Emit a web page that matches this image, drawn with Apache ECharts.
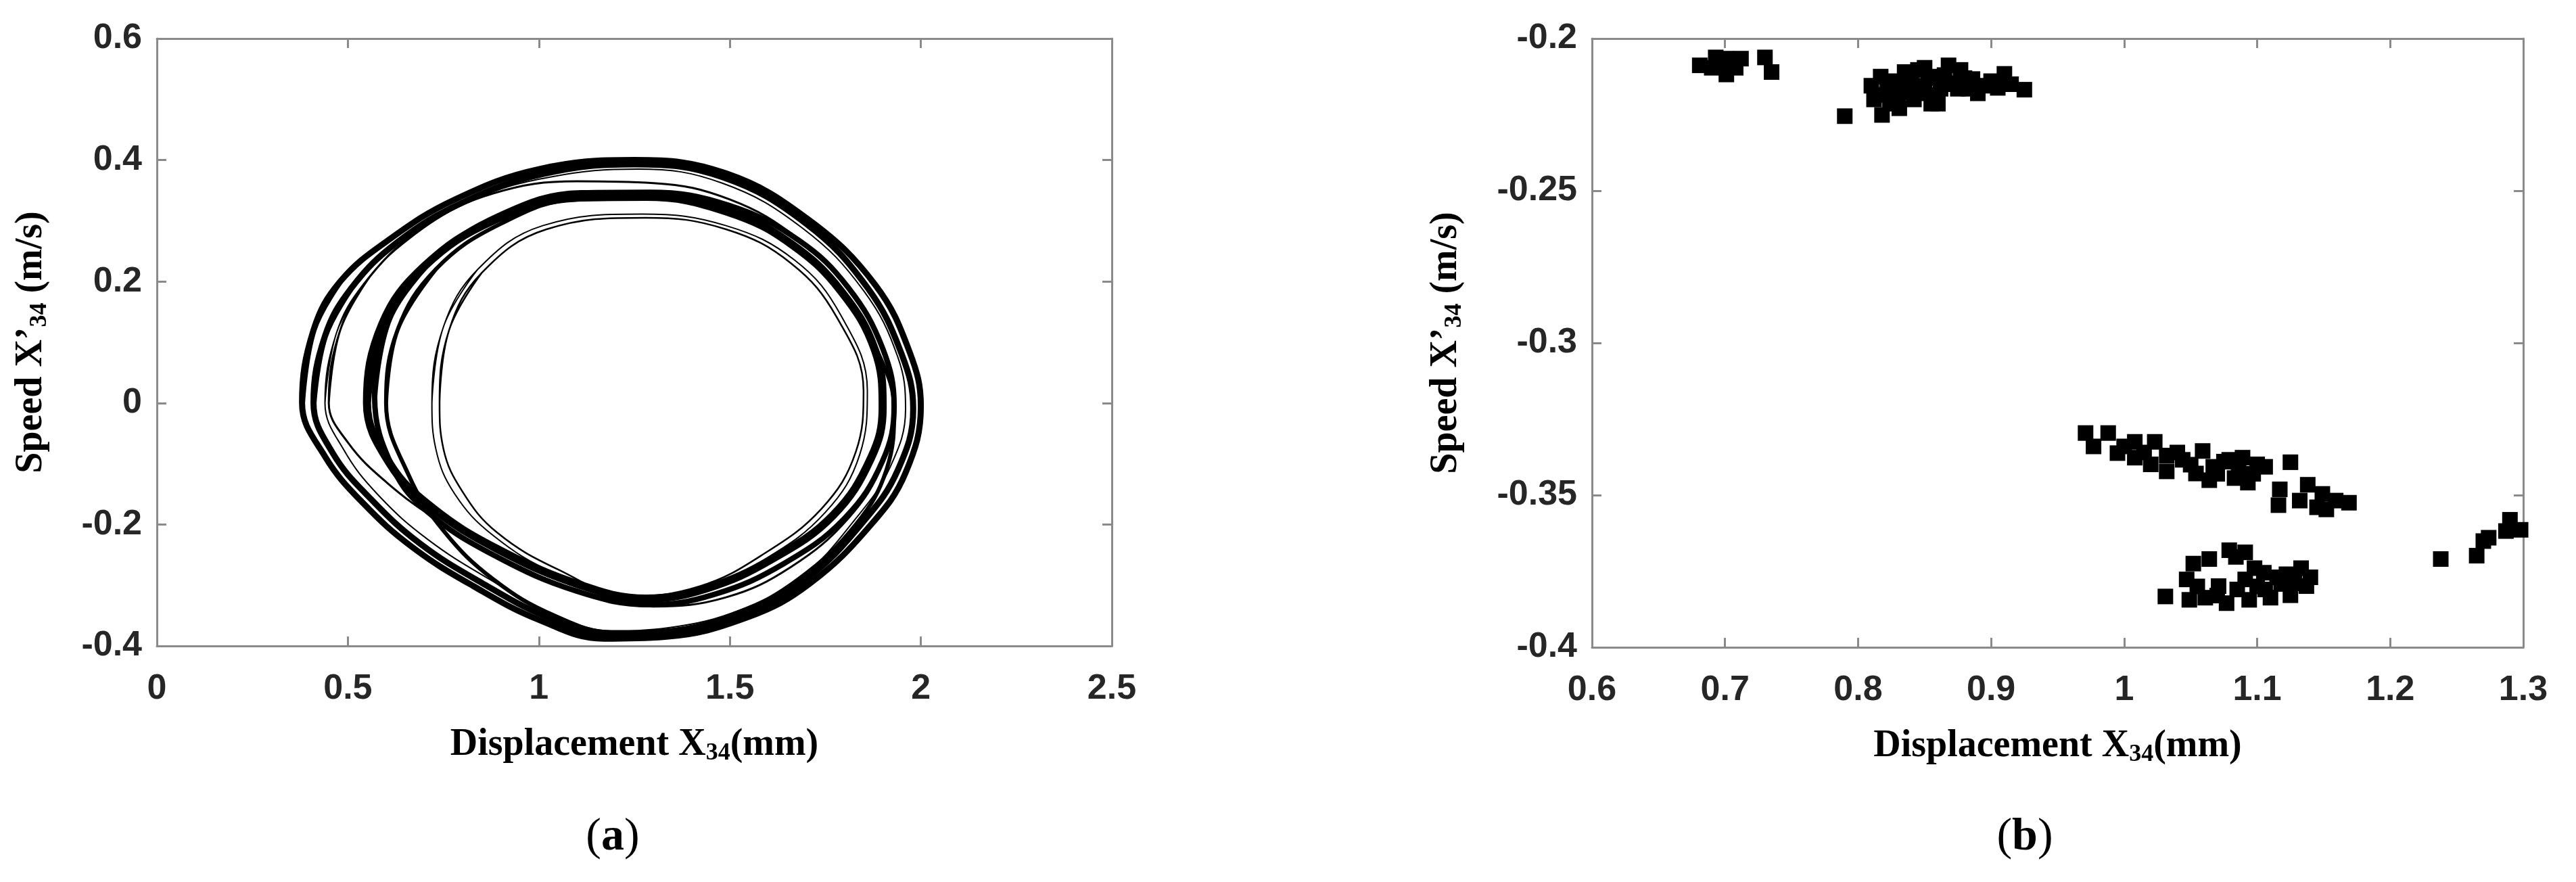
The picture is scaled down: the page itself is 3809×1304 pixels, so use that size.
<!DOCTYPE html>
<html>
<head>
<meta charset="utf-8">
<script src="https://cdn.jsdelivr.net/npm/echarts@6/dist/echarts.min.js"></script>
<style>
  html, body { margin: 0; padding: 0; background: #fff; }
  #main { width: 3809px; height: 1304px; }
</style>
</head>
<body>
<div id="main"></div>
<script>
// (a) phase portrait: loops, [displacement mm, speed m/s]
var loopOuter1 = [[0.38,0.00],[0.41,0.12],[0.48,0.20],[0.61,0.27],[0.78,0.335],[1.00,0.385],[1.25,0.400],[1.49,0.378],[1.71,0.300],[1.88,0.195],[1.97,0.085],[2.00,-0.005],[1.96,-0.115],[1.87,-0.200],[1.71,-0.297],[1.55,-0.352],[1.33,-0.385],[1.17,-0.388],[1.00,-0.357],[0.83,-0.302],[0.67,-0.238],[0.54,-0.165],[0.44,-0.088],[0.38,0.00]];
var loopOuter2 = [[0.41,0.00],[0.44,0.11],[0.51,0.19],[0.63,0.265],[0.80,0.33],[1.01,0.377],[1.25,0.393],[1.48,0.372],[1.70,0.295],[1.86,0.19],[1.95,0.08],[1.98,-0.01],[1.94,-0.11],[1.85,-0.195],[1.70,-0.29],[1.54,-0.345],[1.33,-0.378],[1.18,-0.383],[1.02,-0.352],[0.85,-0.296],[0.69,-0.232],[0.56,-0.158],[0.46,-0.082],[0.41,0.00]];
var loopOuter3 = [[0.44,0.00],[0.47,0.115],[0.54,0.195],[0.66,0.27],[0.83,0.335],[1.03,0.372],[1.26,0.385],[1.48,0.362],[1.69,0.288],[1.85,0.185],[1.94,0.075],[1.96,-0.01],[1.92,-0.105],[1.83,-0.19],[1.69,-0.285],[1.53,-0.34],[1.34,-0.37],[1.19,-0.375],[1.03,-0.345],[0.87,-0.29],[0.71,-0.225],[0.58,-0.152],[0.49,-0.078],[0.44,0.00]];
var loopMiddle = [[0.45,0.00],[0.48,0.12],[0.56,0.21],[0.70,0.29],[0.88,0.345],[1.10,0.365],[1.30,0.362],[1.50,0.335],[1.68,0.27],[1.82,0.18],[1.91,0.08],[1.93,-0.01],[1.90,-0.10],[1.81,-0.19],[1.66,-0.27],[1.49,-0.32],[1.30,-0.335],[1.12,-0.312],[0.92,-0.26],[0.74,-0.195],[0.60,-0.13],[0.50,-0.065],[0.45,0.00]];
var loopInner1 = [[0.55,0.00],[0.59,0.13],[0.70,0.225],[0.88,0.30],[1.10,0.338],[1.28,0.340],[1.49,0.318],[1.66,0.262],[1.79,0.185],[1.88,0.087],[1.90,-0.008],[1.87,-0.090],[1.77,-0.185],[1.61,-0.257],[1.44,-0.305],[1.28,-0.322],[1.11,-0.300],[0.89,-0.240],[0.72,-0.172],[0.61,-0.100],[0.55,0.00]];
var loopInner2 = [[0.57,0.01],[0.61,0.14],[0.72,0.235],[0.90,0.31],[1.11,0.346],[1.29,0.347],[1.50,0.325],[1.68,0.268],[1.81,0.19],[1.90,0.09],[1.93,-0.005],[1.90,-0.095],[1.80,-0.19],[1.64,-0.265],[1.46,-0.315],[1.29,-0.332],[1.10,-0.31],[0.88,-0.25],[0.71,-0.18],[0.62,-0.11],[0.57,0.01]];
var loopCross = [[0.60,0.00],[0.63,0.12],[0.73,0.22],[0.90,0.295],[1.10,0.335],[1.28,0.336],[1.49,0.312],[1.67,0.255],[1.80,0.175],[1.89,0.08],[1.93,-0.01],[1.91,-0.11],[1.83,-0.20],[1.68,-0.29],[1.52,-0.345],[1.33,-0.375],[1.20,-0.378],[1.04,-0.35],[0.88,-0.29],[0.75,-0.21],[0.66,-0.12],[0.60,0.00]];
var loopCore1 = [[0.74,0.00],[0.765,0.12],[0.85,0.214],[1.02,0.286],[1.28,0.305],[1.49,0.286],[1.66,0.230],[1.78,0.141],[1.85,0.02],[1.83,-0.08],[1.74,-0.174],[1.58,-0.252],[1.42,-0.302],[1.24,-0.318],[1.05,-0.274],[0.89,-0.213],[0.80,-0.146],[0.75,-0.075],[0.74,0.00]];
var loopCore2 = [[0.72,0.00],[0.75,0.125],[0.84,0.22],[1.01,0.292],[1.27,0.311],[1.49,0.292],[1.67,0.235],[1.79,0.145],[1.86,0.02],[1.84,-0.085],[1.75,-0.18],[1.59,-0.258],[1.42,-0.308],[1.24,-0.322],[1.04,-0.28],[0.88,-0.218],[0.78,-0.15],[0.73,-0.075],[0.72,0.00]];

// (b) Poincare section points, [displacement mm, speed m/s]
var poincarePts = [
  [0.681,-0.2088],[0.690,-0.2096],[0.693,-0.2062],[0.697,-0.2085],[0.701,-0.2066],[0.701,-0.2118],[0.705,-0.2080],[0.708,-0.2096],[0.712,-0.2066],
  [0.730,-0.2062],[0.735,-0.2110],
  [0.790,-0.2255],[0.810,-0.2155],[0.812,-0.2200],[0.817,-0.2125],[0.817,-0.2185],[0.818,-0.2251],[0.822,-0.2170],[0.826,-0.2140],[0.828,-0.2214],
  [0.830,-0.2190],[0.831,-0.2229],[0.835,-0.2110],[0.837,-0.2177],[0.840,-0.2140],[0.842,-0.2200],[0.845,-0.2103],[0.848,-0.2180],[0.850,-0.2096],
  [0.850,-0.2155],[0.853,-0.2130],[0.855,-0.2214],[0.859,-0.2125],[0.860,-0.2214],[0.862,-0.2165],[0.865,-0.2120],[0.868,-0.2088],[0.872,-0.2147],
  [0.875,-0.2165],[0.877,-0.2103],[0.880,-0.2130],[0.886,-0.2133],[0.890,-0.2180],[0.895,-0.2155],[0.900,-0.2140],[0.905,-0.2162],[0.910,-0.2116],
  [0.915,-0.2150],[0.925,-0.2168],[0.824,-0.2205],[0.846,-0.2160],[0.868,-0.2150],[0.883,-0.2165],[0.856,-0.2185],[0.834,-0.2160],
  [0.971,-0.3296],[0.977,-0.3340],[0.988,-0.3296],[0.995,-0.3362],[1.000,-0.3340],[1.008,-0.3325],[1.008,-0.3377],[1.015,-0.3360],[1.020,-0.3399],
  [1.023,-0.3325],[1.032,-0.3370],[1.032,-0.3422],[1.040,-0.3360],[1.044,-0.3384],[1.050,-0.3400],[1.054,-0.3429],[1.059,-0.3355],[1.064,-0.3451],
  [1.067,-0.3407],[1.070,-0.3430],[1.075,-0.3390],[1.079,-0.3384],[1.083,-0.3444],[1.086,-0.3420],[1.089,-0.3377],[1.093,-0.3459],[1.097,-0.3430],
  [1.100,-0.3399],[1.106,-0.3407],[1.117,-0.3481],[1.116,-0.3533],[1.125,-0.3392],[1.132,-0.3518],[1.138,-0.3466],[1.145,-0.3540],[1.149,-0.3496],
  [1.152,-0.3547],[1.159,-0.3518],[1.169,-0.3525],
  [1.031,-0.3833],[1.047,-0.3777],[1.049,-0.3844],[1.052,-0.3725],[1.055,-0.3800],[1.061,-0.3837],[1.064,-0.3710],[1.070,-0.3830],[1.071,-0.3799],
  [1.077,-0.3855],[1.079,-0.3681],[1.084,-0.3703],[1.085,-0.3810],[1.091,-0.3688],[1.091,-0.3777],[1.094,-0.3844],[1.098,-0.3740],[1.100,-0.3800],
  [1.105,-0.3755],[1.106,-0.3810],[1.110,-0.3837],[1.115,-0.3770],[1.118,-0.3792],[1.122,-0.3760],[1.125,-0.3829],[1.128,-0.3790],[1.133,-0.3740],
  [1.137,-0.3799],[1.140,-0.3770],
  [1.238,-0.3710],[1.265,-0.3699],[1.270,-0.3651],[1.274,-0.3640],[1.287,-0.3618],[1.290,-0.3581],[1.298,-0.3614]
];

var axisGray = '#8a8a8a';
var labelFont = { fontFamily: 'Liberation Sans', fontWeight: 'bold', fontSize: 52, color: '#262626' };
var titleRich = {
  t: { fontFamily: 'Liberation Serif', fontWeight: 'bold', fontSize: 56, color: '#000', lineHeight: 70 },
  s: { fontFamily: 'Liberation Serif', fontWeight: 'bold', fontSize: 36, color: '#000', lineHeight: 70, padding: [24, 0, 0, 0] }
};

function mainAxis(grid, pos, min, max, interval, name, gap) {
  return {
    type: 'value', gridIndex: grid, position: pos, min: min, max: max, interval: interval,
    name: name, nameLocation: 'middle', nameGap: gap,
    nameTextStyle: { rich: titleRich },
    axisLine: { show: true, onZero: false, lineStyle: { color: axisGray, width: 3 } },
    axisTick: { show: true, inside: true, length: 14, lineStyle: { color: axisGray, width: 3 } },
    axisLabel: Object.assign({ margin: pos === 'bottom' ? 38 : 22 }, labelFont),
    splitLine: { show: false }
  };
}
function mirrorAxis(grid, pos, min, max, interval) {
  return {
    type: 'value', gridIndex: grid, position: pos, min: min, max: max, interval: interval,
    axisLine: { show: true, onZero: false, lineStyle: { color: axisGray, width: 3 } },
    axisTick: { show: true, inside: true, length: 14, lineStyle: { color: axisGray, width: 3 } },
    axisLabel: { show: false },
    splitLine: { show: false }
  };
}
// closed loop: run past the start point so the open ends of the path overlap
function loopSeries(data, width) {
  var wrapped = data.concat(data.slice(1, 3));
  return {
    type: 'line', xAxisIndex: 0, yAxisIndex: 0, data: wrapped, smooth: 0.4,
    showSymbol: false, silent: true,
    lineStyle: { color: '#000', width: width, join: 'round', cap: 'round' }
  };
}

var chartDom = document.getElementById('main');
var myChart = echarts.init(chartDom);

var option = {
  animation: false,
  backgroundColor: '#fff',
  grid: [
    { left: 232, top: 57, width: 1412, height: 898 },
    { left: 2354, top: 57, width: 1377, height: 900 }
  ],
  xAxis: [
    mainAxis(0, 'bottom', 0, 2.5, 0.5, '{t|Displacement X}{s|34}{t|(mm)}', 112),
    mirrorAxis(0, 'top', 0, 2.5, 0.5),
    mainAxis(1, 'bottom', 0.6, 1.3, 0.1, '{t|Displacement X}{s|34}{t|(mm)}', 112),
    mirrorAxis(1, 'top', 0.6, 1.3, 0.1)
  ],
  yAxis: [
    mainAxis(0, 'left', -0.4, 0.6, 0.2, '{t|Speed X’}{s|34}{t| (m/s)}', 150),
    mirrorAxis(0, 'right', -0.4, 0.6, 0.2),
    mainAxis(1, 'left', -0.4, -0.2, 0.05, '{t|Speed X’}{s|34}{t| (m/s)}', 180),
    mirrorAxis(1, 'right', -0.4, -0.2, 0.05)
  ],
  series: [
    loopSeries(loopOuter1, 9),
    loopSeries(loopOuter2, 9),
    loopSeries(loopOuter3, 2),
    loopSeries(loopMiddle, 3),
    loopSeries(loopInner1, 12),
    loopSeries(loopInner2, 8),
    loopSeries(loopCross, 6),
    loopSeries(loopCore1, 2.5),
    loopSeries(loopCore2, 2),
    {
      type: 'scatter', xAxisIndex: 2, yAxisIndex: 2, data: poincarePts,
      symbol: 'rect', symbolSize: 23, silent: true,
      itemStyle: { color: '#000', opacity: 1 }
    }
  ],
  graphic: [
    { type: 'text', x: 906, y: 1238, style: { text: '{p|(}{b|a}{p|)}', align: 'center', verticalAlign: 'middle',
      rich: { p: { fontFamily: 'Liberation Serif', fontSize: 68, fill: '#000' }, b: { fontFamily: 'Liberation Serif', fontWeight: 'bold', fontSize: 68, fill: '#000' } } } },
    { type: 'text', x: 2994, y: 1238, style: { text: '{p|(}{b|b}{p|)}', align: 'center', verticalAlign: 'middle',
      rich: { p: { fontFamily: 'Liberation Serif', fontSize: 68, fill: '#000' }, b: { fontFamily: 'Liberation Serif', fontWeight: 'bold', fontSize: 68, fill: '#000' } } } }
  ]
};

myChart.setOption(option);
</script>
</body>
</html>
